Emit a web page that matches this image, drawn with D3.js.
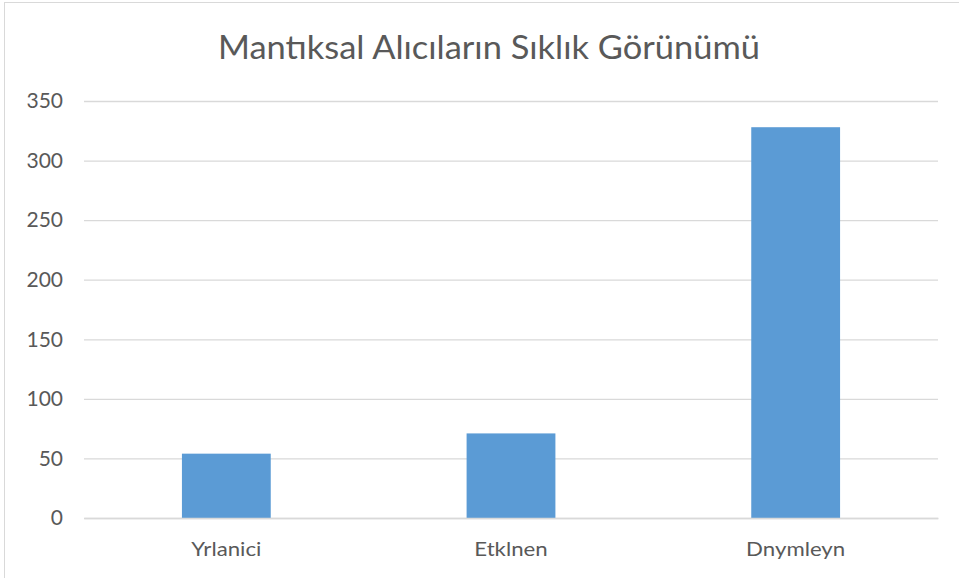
<!DOCTYPE html>
<html><head><meta charset="utf-8">
<script src="https://cdn.jsdelivr.net/npm/d3@7"></script>
<style>html,body{margin:0;padding:0;background:#fff;}svg{display:block;}</style>
</head><body>
<svg id="chart" width="959" height="578"></svg>
<script>
const title = "Mantıksal Alıcıların Sıklık Görünümü";
const categories = ["Yrlanici", "Etklnen", "Dnymleyn"];
const values = [54, 71, 328];
const yTicks = [0, 50, 100, 150, 200, 250, 300, 350];

const svg = d3.select("#chart");
const font = "Lato, 'Open Sans', sans-serif";
const margin = {left: 84, right: 21, top: 101, bottom: 60};
const W = 959, H = 578;

svg.append("rect").attr("x", 4.5).attr("y", 2.5).attr("width", 1000).attr("height", 1000)
  .attr("fill", "#fff").attr("stroke", "#d9d9d9").attr("stroke-width", 1);

const x = d3.scaleBand().domain(categories).range([margin.left, W - margin.right])
  .paddingInner(0.688).paddingOuter(0.344);
const y = d3.scaleLinear().domain([0, 350]).range([518, margin.top]);

const yAxis = d3.axisLeft(y).tickValues(yTicks).tickSize(-(W - margin.right - margin.left)).tickPadding(21);
const gy = svg.append("g").attr("transform", `translate(${margin.left},0)`).call(yAxis);
gy.select(".domain").remove();
gy.selectAll(".tick line").attr("stroke", "#d9d9d9").attr("stroke-width", 1.3);
gy.selectAll(".tick text").attr("fill", "#595959").style("font-family", font).style("font-size", "21px");

svg.append("g").selectAll("rect").data(values).join("rect")
  .attr("x", (d, i) => x(categories[i]))
  .attr("width", x.bandwidth())
  .attr("y", d => y(d))
  .attr("height", d => y(0) - y(d))
  .attr("fill", "#5b9bd5");

const xAxis = d3.axisBottom(x).tickSize(0).tickPadding(24);
const gx = svg.append("g").attr("transform", `translate(0,${y(0)})`).call(xAxis);
gx.select(".domain").attr("stroke", "#d9d9d9").attr("stroke-width", 1.3);
gx.selectAll(".tick text").attr("fill", "#595959").style("font-family", font).style("font-size", "19px")
  .attr("y", 38).attr("dy", null)
  .each(function() { const w = this.getComputedTextLength(); d3.select(this).attr("textLength", w * 1.17).attr("lengthAdjust", "spacingAndGlyphs"); });

svg.append("text").attr("x", 489).attr("y", 59).attr("text-anchor", "middle")
  .attr("fill", "#595959").style("font-family", font).style("font-size", "32px")
  .attr("textLength", 542).attr("lengthAdjust", "spacingAndGlyphs")
  .text(title);
</script>
</body></html>
